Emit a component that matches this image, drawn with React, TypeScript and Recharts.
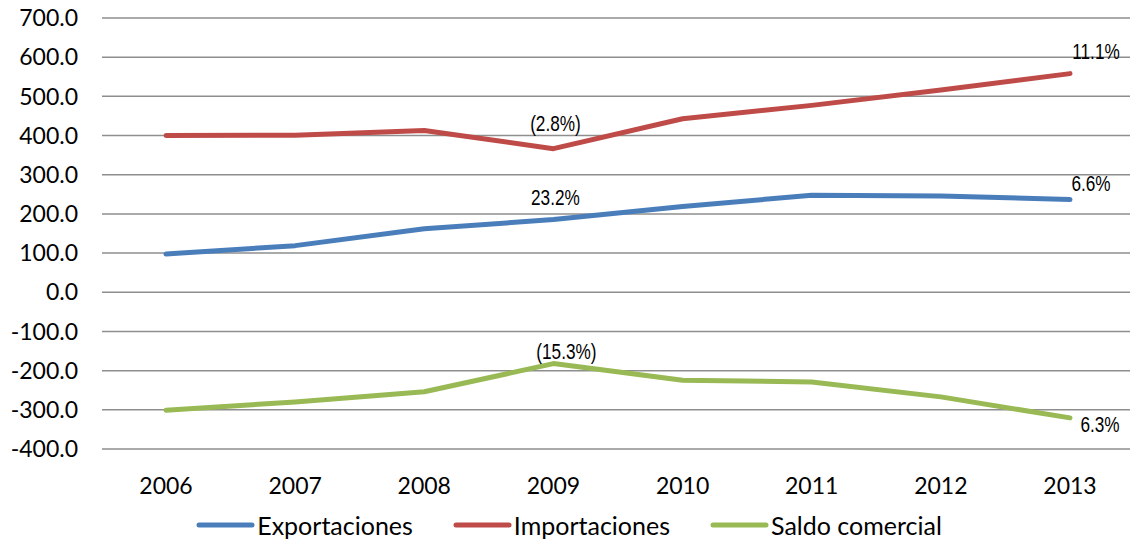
import React from 'react'
import { LineChart, Line, XAxis, YAxis, CartesianGrid, Legend, LabelList } from 'recharts'

const years = ['2006', '2007', '2008', '2009', '2010', '2011', '2012', '2013']
const exportaciones = [97.7, 119, 162, 185.5, 219, 247.5, 246, 236.5]
const importaciones = [400, 401, 413, 366.5, 443, 477, 516, 558]
const saldo = [-301, -280, -254, -182, -224.5, -229, -267, -320.6]

const exportLabels = ['', '', '', '23.2%', '', '', '', '6.6%']
const importLabels = ['', '', '', '(2.8%)', '', '', '', '11.1%']
const saldoLabels = ['', '', '', '(15.3%)', '', '', '', '6.3%']

const yTicks = [-400, -300, -200, -100, 0, 100, 200, 300, 400, 500, 600, 700]

const chartData = years.map((year, i) => ({
  year,
  exportaciones: exportaciones[i],
  importaciones: importaciones[i],
  saldo: saldo[i],
}))

const series = [
  { key: 'exportaciones', name: 'Exportaciones', color: '#4A7EBB', labels: exportLabels },
  { key: 'importaciones', name: 'Importaciones', color: '#BE4B48', labels: importLabels },
  { key: 'saldo', name: 'Saldo comercial', color: '#98B954', labels: saldoLabels },
]

// label placement relative to the point: [dx, baseline dy]
const labelOffsets: { [key: string]: { [idx: number]: [number, number] } } = {
  exportaciones: { 3: [2, -15], 7: [21, -9] },
  importaciones: { 3: [2, -18], 7: [26, -15] },
  saldo: { 3: [13, -5], 7: [30, 14] },
}

const axisFont = 'Lato, "Open Sans", sans-serif'
const labelFont = '"Liberation Sans", Arial, sans-serif'

function makeLabel(key: string, labels: string[]) {
  return (props: any) => {
    const { x, y, index } = props
    const text = labels[index]
    if (!text) return null
    const off = labelOffsets[key][index] || [0, -10]
    // squeeze horizontally to look like a narrow face
    return (
      <text
        transform={`translate(${x + off[0]},${y + off[1]}) scale(0.8,1)`}
        x={0}
        y={0}
        textAnchor="middle"
        fontFamily={labelFont}
        fontSize={21.5}
        fill="#000"
      >
        {text}
      </text>
    )
  }
}

function CustomLegend() {
  return (
    <div
      style={{
        height: 43,
        boxSizing: 'border-box',
        paddingTop: 8,
        paddingLeft: 4,
        display: 'flex',
        justifyContent: 'center',
        alignItems: 'center',
        fontFamily: axisFont,
        fontSize: 25,
        color: '#000',
      }}
    >
      {series.map((s, i) => (
        <div key={s.key} style={{ display: 'flex', alignItems: 'center', marginLeft: i === 0 ? 0 : 40 }}>
          <svg width={59} height={8} style={{ marginRight: 2 }}>
            <line x1={3} y1={4} x2={56} y2={4} stroke={s.color} strokeWidth={5} strokeLinecap="round" />
          </svg>
          <span>{s.name}</span>
        </div>
      ))}
    </div>
  )
}

export default function App() {
  return (
    <div style={{ position: 'absolute', left: 0, top: 0, width: 1130, height: 542, overflow: 'hidden', background: '#fff' }}>
      <LineChart
        width={1140}
        height={542}
        data={chartData}
        margin={{ top: 18, right: 6, left: 0, bottom: 0 }}
      >
        <CartesianGrid vertical={false} stroke="#8e8e8e" strokeWidth={1.5} />
        <XAxis
          dataKey="year"
          axisLine={false}
          tickLine={false}
          tickSize={0}
          tickMargin={29}
          height={50}
          padding={{ left: 64, right: 64 }}
          tick={{ fontSize: 23, fontFamily: axisFont, fill: '#000' }}
        />
        <YAxis
          domain={[-400, 700]}
          ticks={yTicks}
          interval={0}
          axisLine={false}
          tickLine={false}
          tickSize={0}
          tickMargin={24}
          width={102}
          tickFormatter={(v: number) => v.toFixed(1)}
          tick={{ fontSize: 23, fontFamily: axisFont, fill: '#000' }}
        />
        <Legend verticalAlign="bottom" content={() => <CustomLegend />} />
        {series.map(s => (
          <Line
            key={s.key}
            type="linear"
            dataKey={s.key}
            name={s.name}
            stroke={s.color}
            strokeWidth={5}
            strokeLinecap="round"
            strokeLinejoin="round"
            dot={false}
            activeDot={false}
            isAnimationActive={false}
          >
            <LabelList dataKey={s.key} content={makeLabel(s.key, s.labels)} />
          </Line>
        ))}
      </LineChart>
    </div>
  )
}
